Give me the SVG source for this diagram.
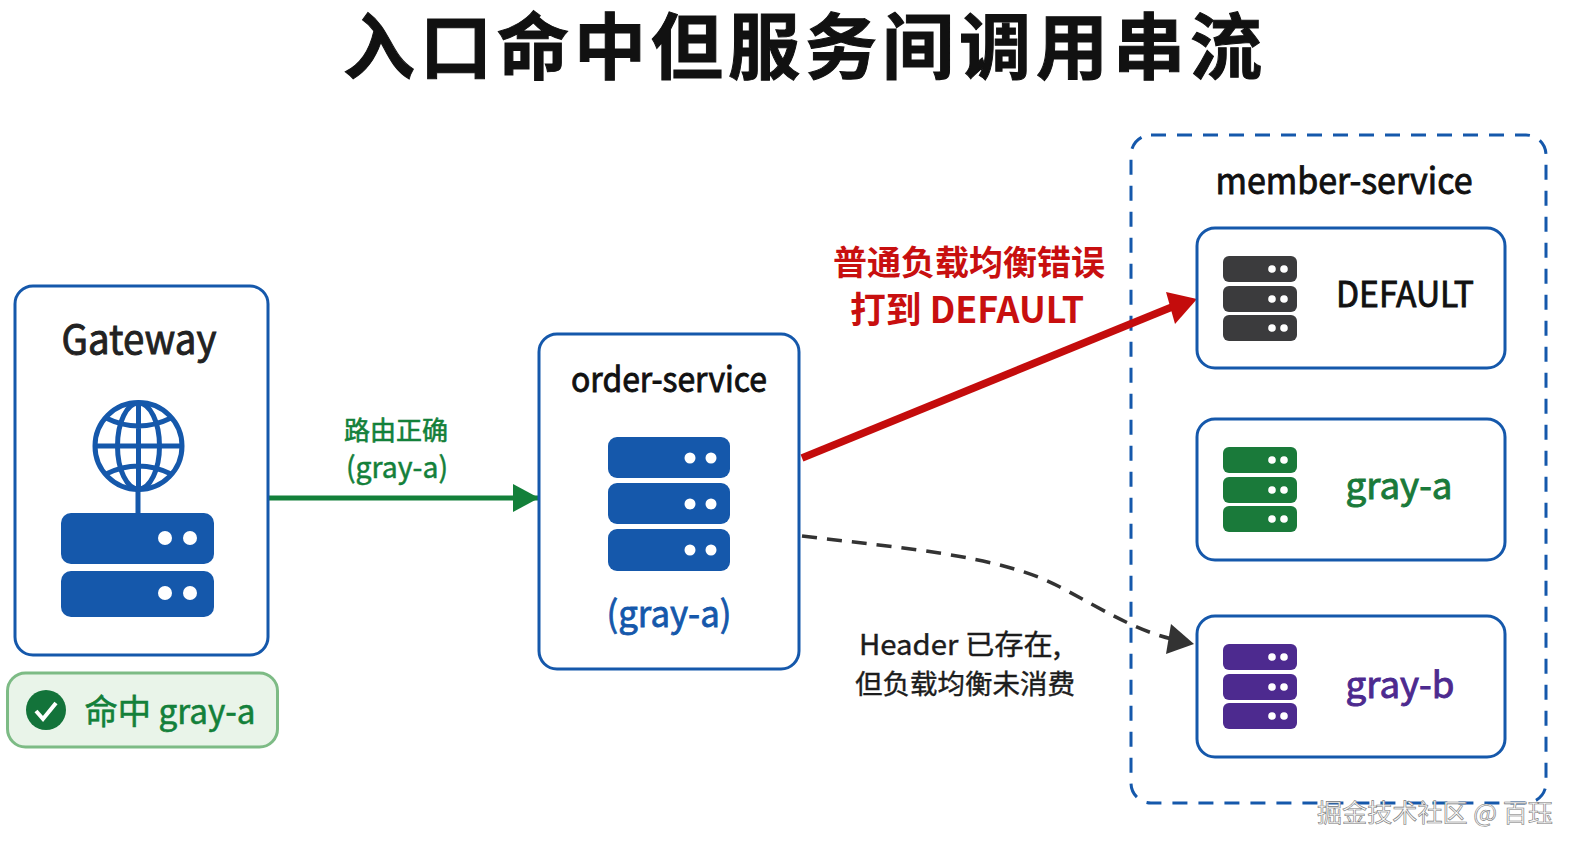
<svg xmlns="http://www.w3.org/2000/svg" width="1576" height="850" viewBox="0 0 1576 850">
<style>
text{font-family:"Noto Sans CJK SC","Noto Sans",sans-serif;text-anchor:middle;font-weight:400}
.box{fill:#fff;stroke:#1558ab;stroke-width:3}
.dot{fill:#fff}
.blue{fill:#1558ab}.dark{fill:#3b3b3d}.green{fill:#1a7a3a}.purple{fill:#4d2a8f}
.glb{fill:none;stroke:#1558ab;stroke-width:5}
.nt{fill:#1c1c1c;stroke:#1c1c1c;stroke-width:.4}
.semi{stroke-width:.9}
</style>
<defs>
<marker id="ag" markerUnits="userSpaceOnUse" markerWidth="26" markerHeight="30" refX="26" refY="15" orient="auto"><path d="M0 1L26 15L0 29Z" fill="#13803a"/></marker>
<g id="sm"><rect width="74" height="26" rx="6"/><circle cx="49" cy="13" r="3.8" class="dot"/><circle cx="61" cy="13" r="3.800" class="dot"/></g>
<g id="srv3"><use href="#sm"/><use href="#sm" y="30"/><use href="#sm" y="59"/></g>
</defs>
<rect width="1576" height="850" fill="#fff"/>
<g id="title"><text x="805" y="73" font-size="72" fill="#111" stroke="#111" stroke-width="1" style="font-weight:700" letter-spacing="5">入口命中但服务间调用串流</text></g>

<g id="member-service">
<rect x="1131" y="135" width="415" height="668" rx="20" fill="none" stroke="#1558ab" stroke-width="3" stroke-dasharray="15 11"/>
<text class="semi" x="1344" y="194" font-size="36" fill="#111" stroke="#111" textLength="257" lengthAdjust="spacingAndGlyphs">member-service</text>
</g>

<g id="connectors">
<path d="M268 498H539" fill="none" stroke="#13803a" stroke-width="5" marker-end="url(#ag)"/>
<path d="M802 458L1172 307" fill="none" stroke="#c40c0c" stroke-width="7.500"/>
<path d="M1197 299L1166 292L1175 324Z" fill="#c40c0c"/>
<path d="M802 536C900 548 1000 555 1060 587C1105 611 1135 630 1172 639" fill="none" stroke="#333" stroke-width="3.500" stroke-dasharray="15 10"/>
<path d="M1194 644L1171 624L1166 654Z" fill="#333"/>
</g>

<g id="gateway">
<rect class="box" x="15" y="286" width="253" height="369" rx="18"/>
<text class="semi" x="139" y="354" font-size="40" fill="#222" stroke="#222" textLength="155" lengthAdjust="spacingAndGlyphs">Gateway</text>
<circle class="glb" cx="138.500" cy="446" r="43.500"/>
<ellipse class="glb" cx="138.500" cy="446" rx="21" ry="43"/>
<path class="glb" d="M96 446H181M138.500 404V488M106 418Q138.500 434 171 418M106 474Q138.500 458 171 474"/>
<rect class="blue" x="135.500" y="488" width="5" height="26"/>
<rect class="blue" x="61" y="513" width="153" height="51" rx="10"/>
<rect class="blue" x="61" y="571" width="153" height="46" rx="10"/>
<circle class="dot" cx="165" cy="538" r="7"/><circle class="dot" cx="190" cy="538" r="7"/>
<circle class="dot" cx="165" cy="593" r="7"/><circle class="dot" cx="190" cy="593" r="7"/>
</g>

<g id="badge">
<rect x="7.500" y="673" width="270" height="74" rx="18" fill="#e9f4e9" stroke="#7dbb85" stroke-width="3"/>
<circle cx="46" cy="710" r="20" fill="#13733a"/>
<path d="M36 711L43 719L56 703" fill="none" stroke="#fff" stroke-width="4"/>
<text x="170" y="724" font-size="34" fill="#13803a" stroke="#13803a" stroke-width=".6" textLength="171" lengthAdjust="spacingAndGlyphs">命中 gray-a</text>
</g>

<g id="edge-label-green">
<text x="396" y="440" font-size="26" fill="#13803a" stroke="#13803a" stroke-width=".6">路由正确</text>
<text x="397" y="478" font-size="29" fill="#13803a" stroke="#13803a" stroke-width=".5" textLength="102" lengthAdjust="spacingAndGlyphs">(gray-a)</text>
</g>

<g id="order-service">
<rect class="box" x="539" y="334" width="260" height="335" rx="18"/>
<text class="semi" x="669" y="392" font-size="35" fill="#111" stroke="#111" textLength="196" lengthAdjust="spacingAndGlyphs">order-service</text>
<rect class="blue" x="608" y="437" width="122" height="41" rx="9"/>
<rect class="blue" x="608" y="483" width="122" height="41" rx="9"/>
<rect class="blue" x="608" y="529" width="122" height="42" rx="9"/>
<circle class="dot" cx="690" cy="458" r="5.500"/><circle class="dot" cx="711" cy="458" r="5.500"/>
<circle class="dot" cx="690" cy="504" r="5.500"/><circle class="dot" cx="711" cy="504" r="5.500"/>
<circle class="dot" cx="690" cy="550" r="5.500"/><circle class="dot" cx="711" cy="550" r="5.500"/>
<text x="669" y="627" font-size="36" fill="#1558ab" stroke="#1558ab" stroke-width=".8" textLength="125" lengthAdjust="spacingAndGlyphs">(gray-a)</text>
</g>

<g id="edge-label-red">
<text x="969" y="275" font-size="34" style="font-weight:700" fill="#c80f0f">普通负载均衡错误</text>
<text x="967" y="323" font-size="36" style="font-weight:700" fill="#c80f0f" textLength="234" lengthAdjust="spacingAndGlyphs">打到 DEFAULT</text>
</g>

<g id="edge-label-dark">
<text class="nt" x="960" y="655" font-size="28" textLength="202" lengthAdjust="spacingAndGlyphs">Header 已存在,</text>
<text class="nt" x="965" y="694" font-size="27.500">但负载均衡未消费</text>
</g>

<g id="default">
<rect class="box" x="1197" y="228" width="308" height="140" rx="18"/>
<use href="#srv3" x="1223" y="256" class="dark"/>
<text class="semi" x="1405" y="307" font-size="36" fill="#111" stroke="#111" textLength="138" lengthAdjust="spacingAndGlyphs">DEFAULT</text>
</g>
<g id="gray-a">
<rect class="box" x="1197" y="419" width="308" height="141" rx="18"/>
<use href="#srv3" x="1223" y="447" class="green"/>
<text x="1399" y="499" font-size="36" fill="#1a7a3a" stroke="#1a7a3a" stroke-width=".9" textLength="107" lengthAdjust="spacingAndGlyphs">gray-a</text>
</g>
<g id="gray-b">
<rect class="box" x="1197" y="616" width="308" height="141" rx="18"/>
<use href="#srv3" x="1223" y="644" class="purple"/>
<text x="1400" y="698" font-size="36" fill="#4d2a8f" stroke="#4d2a8f" stroke-width=".9" textLength="109" lengthAdjust="spacingAndGlyphs">gray-b</text>
</g>

<g id="watermark">
<text x="1435" y="822" font-size="25" fill="#fafafa" stroke="#777" stroke-width=".6" textLength="236" lengthAdjust="spacingAndGlyphs">掘金技术社区 @ 百珏</text>
</g>
</svg>
